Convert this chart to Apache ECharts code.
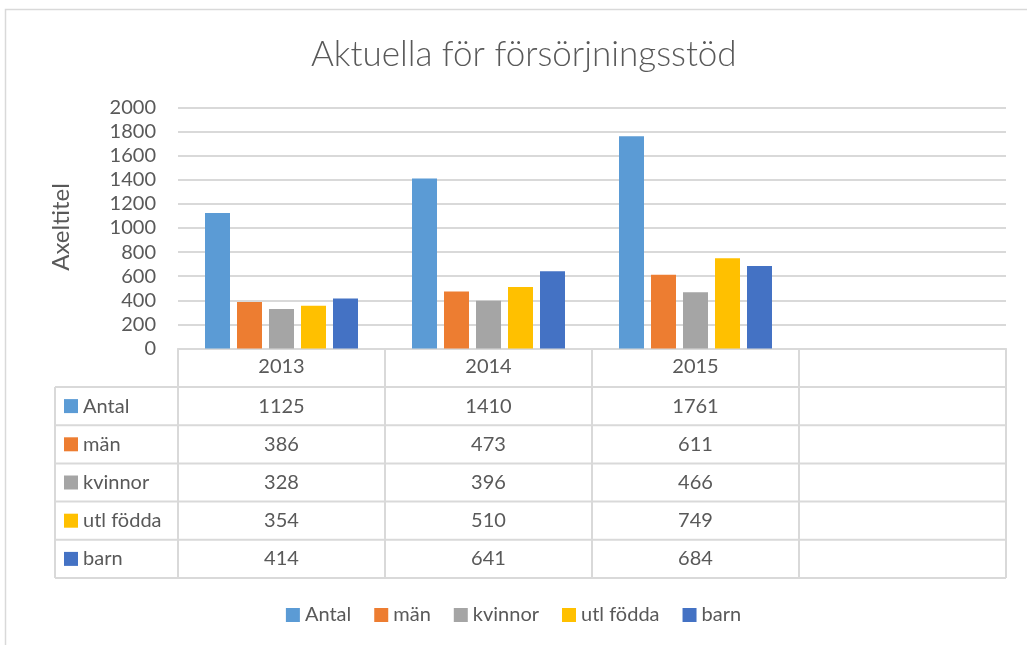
<!DOCTYPE html>
<html>
<head>
<meta charset="utf-8">
<script src="https://cdn.jsdelivr.net/npm/echarts@6/dist/echarts.min.js"></script>
<style>
    html, body { margin: 0; padding: 0; background: #fff; }
    #chart { width: 1027px; height: 645px; }
</style>
</head>
<body>
<div id="chart"></div>
<script>
    // data
    var years = ['2013', '2014', '2015', ''];
    var names = ['Antal', 'män', 'kvinnor', 'utl födda', 'barn'];
    var antal = [1125, 1410, 1761];
    var man = [386, 473, 611];
    var kvinnor = [328, 396, 466];
    var utlFodda = [354, 510, 749];
    var barn = [414, 641, 684];
    var values = [antal, man, kvinnor, utlFodda, barn];
    var colors = ['#5B9BD5', '#ED7D31', '#A5A5A5', '#FFC000', '#4472C4'];

    var textColor = '#595959';
    var lineColor = '#d9d9d9';
    var font = 'Lato, "Open Sans", sans-serif';

    // layout
    var plotLeft = 178, plotRight = 1006, plotTop = 107.5, plotBottom = 348.5;
    var tableLeft = 55, headerBottom = 387, rowH = 38.2;

    var chartDom = document.getElementById('chart');
    var myChart = echarts.init(chartDom);

    var series = names.map(function (n, i) {
        return {
            name: n,
            type: 'bar',
            barWidth: 25,
            barGap: '28%',
            itemStyle: { color: colors[i] },
            data: values[i]
        };
    });

    var option = {
        backgroundColor: '#fff',
        animation: false,
        textStyle: { fontFamily: font },
        title: {
            text: 'Aktuella för försörjningsstöd',
            left: 306,
            top: 32,
            textStyle: { fontFamily: font, fontSize: 35, fontWeight: 300, color: textColor }
        },
        legend: {
            data: names,
            bottom: 15,
            left: 'center',
            icon: 'rect',
            itemWidth: 14,
            itemHeight: 14,
            itemGap: 23,
            textStyle: { fontFamily: font, fontSize: 20, color: textColor }
        },
        grid: {
            left: plotLeft,
            right: 1027 - plotRight,
            top: plotTop,
            bottom: 645 - plotBottom
        },
        xAxis: {
            type: 'category',
            data: years,
            axisTick: { show: false },
            axisLine: { lineStyle: { color: lineColor, width: 2 } },
            axisLabel: { color: textColor, fontSize: 20, margin: 8, fontFamily: font }
        },
        yAxis: {
            type: 'value',
            min: 0,
            max: 2000,
            interval: 200,
            axisLine: { show: false },
            axisTick: { show: false },
            splitLine: { lineStyle: { color: lineColor, width: 2 } },
            axisLabel: {
                color: textColor, fontSize: 20, margin: 22, fontFamily: font,
                formatter: function (v) { return String(v); }
            }
        },
        series: series
    };
    myChart.setOption(option);

    // data table under the plot
    var band = (plotRight - plotLeft) / years.length;
    var g = [];
    g.push({
        type: 'rect', silent: true,
        shape: { x: 5.5, y: 9.5, width: 1040, height: 660 },
        style: { fill: 'none', stroke: lineColor, lineWidth: 1.5 }
    });
    var tableBottom = headerBottom + rowH * names.length;
    for (var r = 0; r <= names.length; r++) {
        var y = headerBottom + rowH * r;
        g.push({ type: 'line', silent: true, shape: { x1: tableLeft, y1: y, x2: plotRight, y2: y },
            style: { stroke: lineColor, lineWidth: 2 } });
    }
    g.push({ type: 'line', silent: true, shape: { x1: tableLeft, y1: headerBottom, x2: tableLeft, y2: tableBottom },
        style: { stroke: lineColor, lineWidth: 2 } });
    for (var c = 0; c <= years.length; c++) {
        var x = plotLeft + band * c;
        g.push({ type: 'line', silent: true, shape: { x1: x, y1: plotBottom, x2: x, y2: tableBottom },
            style: { stroke: lineColor, lineWidth: 2 } });
    }
    names.forEach(function (n, i) {
        var cy = headerBottom + rowH * (i + 0.5);
        g.push({ type: 'rect', silent: true, shape: { x: 64, y: cy - 7, width: 14, height: 14 },
            style: { fill: colors[i] } });
        g.push({ type: 'text', silent: true, x: 83, y: cy,
            style: { text: n, fill: textColor, font: '20px ' + font, verticalAlign: 'middle', align: 'left' } });
        values[i].forEach(function (v, j) {
            var px = myChart.convertToPixel({ xAxisIndex: 0 }, years[j]);
            g.push({ type: 'text', silent: true, x: px, y: cy,
                style: { text: String(v), fill: textColor, font: '20px ' + font, verticalAlign: 'middle', align: 'center' } });
        });
    });
    g.push({
        type: 'text', silent: true, x: 61, y: 227, rotation: Math.PI / 2,
        style: { text: 'Axeltitel', fill: textColor, font: '24px ' + font, verticalAlign: 'middle', align: 'center' }
    });
    myChart.setOption({ graphic: g });
</script>
</body>
</html>
